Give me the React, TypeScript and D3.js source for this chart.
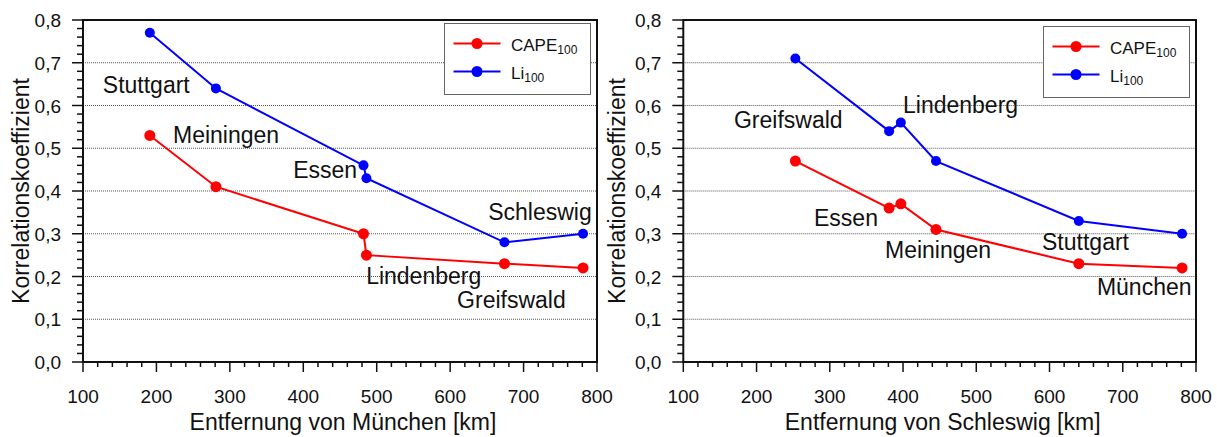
import React from "react";
import * as d3 from "d3";

// ---- Data ----
const leftStations = ["Stuttgart", "Meiningen", "Essen", "Lindenberg", "Greifswald", "Schleswig"];
const leftDist = [191, 281, 482, 486, 674, 781];
const leftCape = [0.53, 0.41, 0.30, 0.25, 0.23, 0.22];
const leftLi = [0.77, 0.64, 0.46, 0.43, 0.28, 0.30];
// label anchors in data units (km, coefficient)
const leftLabelX = [127, 222.6, 473.3, 485.6, 609.5, 651.8];
const leftLabelY = [0.629, 0.512, 0.431, 0.182, 0.126, 0.332];
const leftLabelAnchor = ["start", "start", "end", "start", "start", "start"];

const rightStations = ["Greifswald", "Essen", "Lindenberg", "Meiningen", "Stuttgart", "München"];
const rightDist = [253, 381, 397, 445, 640, 781];
const rightCape = [0.47, 0.36, 0.37, 0.31, 0.23, 0.22];
const rightLi = [0.71, 0.54, 0.56, 0.47, 0.33, 0.30];
const rightLabelX = [169.2, 365.8, 400, 375.4, 589.8, 664.7];
const rightLabelY = [0.547, 0.318, 0.582, 0.243, 0.262, 0.157];
const rightLabelAnchor = ["start", "end", "start", "start", "start", "start"];

const xTickValues = [100, 200, 300, 400, 500, 600, 700, 800];
const yTickValues = [0, 0.1, 0.2, 0.3, 0.4, 0.5, 0.6, 0.7, 0.8];
const yGridValues = [0.1, 0.2, 0.3, 0.4, 0.5, 0.6, 0.7];
const seriesNames = ["CAPE", "Li"];
const seriesSub = ["100", "100"];
const seriesColors = ["#ff0000", "#0000ff"];

const FONT = "'Liberation Sans', Arial, Helvetica, sans-serif";
const INK = "#111";

type PanelProps = {
  x0: number; x1: number; y0: number; y1: number;
  dist: number[]; cape: number[]; li: number[];
  stations: string[]; lx: number[]; ly: number[]; la: string[];
  xTitle: string; yTitleX: number; legendTop: number;
};

function Panel(p: PanelProps) {
  const x = d3.scaleLinear().domain([100, 800]).range([p.x0, p.x1]);
  const y = d3.scaleLinear().domain([0, 0.8]).range([p.y1, p.y0]);
  const line = d3.line<[number, number]>().x(d => x(d[0])).y(d => y(d[1]));
  const series = [p.cape, p.li];
  const minorX = d3.range(100, 801, 20);
  const minorY = d3.range(0, 81, 2).map(v => v / 100);
  const fmt = (v: number) => v.toFixed(1).replace(".", ",");
  const lgRight = p.x1 - 6.5;
  const lgW = 146;
  const lgL = lgRight - lgW;
  const lgT = p.legendTop;
  return (
    <g>
      {/* grid */}
      {yGridValues.map(v => (
        <line key={"g" + v} x1={p.x0} x2={p.x1} y1={y(v)} y2={y(v)}
          stroke="#555" strokeWidth={1} strokeDasharray="1,1" />
      ))}
      {/* ticks */}
      {minorX.map(v => {
        const major = v % 100 === 0;
        return <line key={"mx" + v} x1={x(v)} x2={x(v)} y1={p.y1} y2={p.y1 + (major ? 10 : 5)}
          stroke={INK} strokeWidth={1.5} />;
      })}
      {minorY.map(v => {
        const major = Math.abs(v * 10 - Math.round(v * 10)) < 1e-6;
        return <line key={"my" + v} x1={p.x0 - (major ? 11 : 6)} x2={p.x0} y1={y(v)} y2={y(v)}
          stroke={INK} strokeWidth={1.5} />;
      })}
      {/* frame */}
      <rect x={p.x0} y={p.y0} width={p.x1 - p.x0} height={p.y1 - p.y0}
        fill="none" stroke={INK} strokeWidth={2} />
      {/* tick labels */}
      {xTickValues.map(v => (
        <text key={"xt" + v} x={x(v)} y={p.y1 + 41} textAnchor="middle"
          fontFamily={FONT} fontSize={19} fill={INK}>{v}</text>
      ))}
      {yTickValues.map(v => (
        <text key={"yt" + v} x={p.x0 - 22} y={y(v) + 7} textAnchor="end"
          fontFamily={FONT} fontSize={19} fill={INK}>{fmt(v)}</text>
      ))}
      {/* axis titles */}
      <text x={(p.x0 + p.x1) / 2 + 3} y={p.y1 + 68} textAnchor="middle"
        fontFamily={FONT} fontSize={23} fill={INK}>{p.xTitle}</text>
      <text transform={`translate(${p.yTitleX},${(p.y0 + p.y1) / 2}) rotate(-90)`} textAnchor="middle"
        fontFamily={FONT} fontSize={23} fill={INK}>Korrelationskoeffizient</text>
      {/* series */}
      {series.map((vals, si) => {
        const pts: [number, number][] = p.dist.map((d, i) => [d, vals[i]]);
        return (
          <g key={"s" + si}>
            <path d={line(pts) || ""} fill="none" stroke={seriesColors[si]} strokeWidth={2} />
            {pts.map((pt, i) => (
              <circle key={i} cx={x(pt[0])} cy={y(pt[1])} r={si === 0 ? 5.5 : 5}
                fill={seriesColors[si]} />
            ))}
          </g>
        );
      })}
      {/* station labels */}
      {p.stations.map((s, i) => (
        <text key={"lb" + i} x={x(p.lx[i])} y={y(p.ly[i])} textAnchor={p.la[i] as any}
          fontFamily={FONT} fontSize={23} fill={INK}>{s}</text>
      ))}
      {/* legend */}
      <rect x={lgL} y={lgT} width={lgW} height={71} fill="#fff" stroke="#666" strokeWidth={1} />
      {seriesNames.map((n, i) => {
        const ry = lgT + 20 + i * 28;
        return (
          <g key={"lg" + i}>
            <line x1={lgL + 9} x2={lgL + 56} y1={ry} y2={ry} stroke={seriesColors[i]} strokeWidth={2} />
            <circle cx={lgL + 32.5} cy={ry} r={5.5} fill={seriesColors[i]} />
            <text x={lgL + 66.5} y={ry + 7} fontFamily={FONT} fontSize={17} fill={INK}>
              {n}
              <tspan fontSize={12} dy={3}>{seriesSub[i]}</tspan>
            </text>
          </g>
        );
      })}
    </g>
  );
}

export default function App() {
  return (
    <svg width={1217} height={437} style={{ position: "absolute", left: 0, top: 0, background: "#fff" }}>
      <rect width={1217} height={437} fill="#fff" />
      <Panel x0={83} x1={597} y0={20} y1={362}
        dist={leftDist} cape={leftCape} li={leftLi}
        stations={leftStations} lx={leftLabelX} ly={leftLabelY} la={leftLabelAnchor}
        xTitle="Entfernung von München [km]" yTitleX={29} legendTop={23.5} />
      <Panel x0={683.3} x1={1196} y0={20} y1={362}
        dist={rightDist} cape={rightCape} li={rightLi}
        stations={rightStations} lx={rightLabelX} ly={rightLabelY} la={rightLabelAnchor}
        xTitle="Entfernung von Schleswig [km]" yTitleX={625} legendTop={26.5} />
    </svg>
  );
}
